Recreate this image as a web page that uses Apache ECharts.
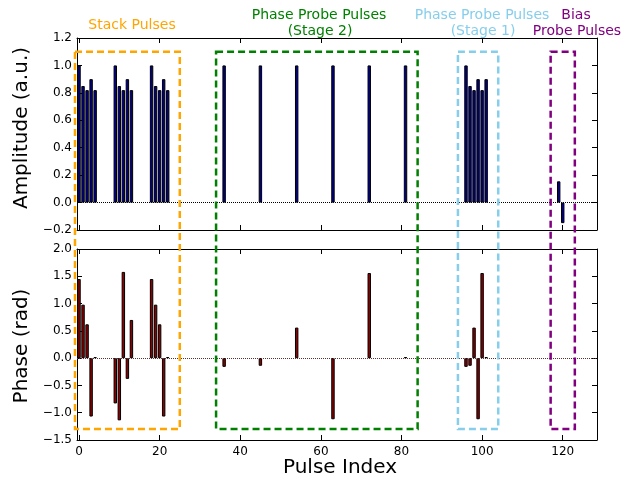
<!DOCTYPE html>
<html><head><meta charset="utf-8">
<script src="https://cdn.jsdelivr.net/npm/echarts@6/dist/echarts.min.js"></script>
<style>html,body{margin:0;padding:0;background:#fff}#c{width:629px;height:485px}</style>
</head><body><div id="c"></div>
<script>
// ---- data ----
const xTicks = [0, 20, 40, 60, 80, 100, 120];
const ampIndex = [0,1,2,3,4, 9,10,11,12,13, 18,19,20,21,22, 36,45,54,63,72,81, 96,97,98,99,100,101, 119,120];
const ampValues = [1.0,0.85,0.82,0.9,0.82, 1.0,0.85,0.82,0.9,0.82, 1.0,0.85,0.82,0.9,0.82, 1,1,1,1,1,1, 1.0,0.85,0.82,0.9,0.82,0.9, 0.155,-0.15];
const phaseIndex = [0,1,2,3,4, 9,10,11,12,13, 18,19,20,21,22, 36,45,54,63,72,81, 96,97,98,99,100,101];
const phaseValues = [1.45,0.98,0.62,-1.07,0.02, -0.83,-1.14,1.58,-0.38,0.70, 1.45,0.98,0.62,-1.07,0.02, -0.16,-0.14,0.56,-1.12,1.56,0.02, -0.16,-0.14,0.56,-1.12,1.56,0.02];
const boxNames = ['Stack Pulses', 'Phase Probe Pulses (Stage 2)', 'Phase Probe Pulses (Stage 1)', 'Bias Probe Pulses'];
const boxStart = [-1, 34, 94, 117];
const boxEnd = [25, 84, 104, 123];
const boxTopAmp = 1.1;
const boxBottomPhase = -1.3;

const FONT = 'DejaVu Sans';
const boxColors = ['#FFA500', '#008000', '#87CEEB', '#800080'];

function fmt(v) {
  if (Math.abs(v) < 1e-9) return '0.0';
  return v.toFixed(1).replace('-', '\u2212');
}

const chart = echarts.init(document.getElementById('c'), null, {renderer: 'canvas'});

function xAx(grid, pos, showLabel) {
  return {
    type: 'value', gridIndex: grid, position: pos, min: -0.5, max: 128.5,
    splitLine: {show: false},
    axisLine: {show: true, onZero: false, lineStyle: {color: '#000', width: 1}},
    axisTick: {show: true, inside: true, length: 5, lineStyle: {color: '#000'}, customValues: xTicks},
    axisLabel: {show: showLabel, customValues: xTicks, fontFamily: FONT, fontSize: 12, color: '#000', margin: 6}
  };
}
function yAx(grid, pos, min, max, interval, showLabel) {
  return {
    type: 'value', gridIndex: grid, position: pos, min: min, max: max, interval: interval,
    splitLine: {show: false},
    axisLine: {show: true, onZero: false, lineStyle: {color: '#000', width: 1}},
    axisTick: {show: true, inside: true, length: 5, lineStyle: {color: '#000'}},
    axisLabel: {show: showLabel, formatter: fmt, fontFamily: FONT, fontSize: 12, color: '#000', margin: 5}
  };
}
function zeroLine(color) {
  return {
    silent: true, symbol: ['none', 'none'], label: {show: false},
    lineStyle: {type: 'dotted', color: color, width: 1},
    data: [{yAxis: 0}], animation: false
  };
}

const option = {
  animation: false,
  backgroundColor: '#fff',
  grid: [
    {left: 77, right: 32, top: 38, height: 192},
    {left: 77, right: 32, top: 249, height: 191}
  ],
  xAxis: [xAx(0, 'bottom', false), xAx(0, 'top', false), xAx(1, 'bottom', true), xAx(1, 'top', false)],
  yAxis: [
    yAx(0, 'left', -0.2, 1.2, 0.2, true), yAx(0, 'right', -0.2, 1.2, 0.2, false),
    yAx(1, 'left', -1.5, 2.0, 0.5, true), yAx(1, 'right', -1.5, 2.0, 0.5, false)
  ],
  series: [
    {
      type: 'bar', xAxisIndex: 0, yAxisIndex: 0,
      data: ampIndex.map((x, i) => [x, ampValues[i]]),
      barWidth: '85%',
      itemStyle: {color: '#00008B', borderColor: '#000', borderWidth: 1},
      markLine: zeroLine('#000')
    },
    {
      type: 'bar', xAxisIndex: 2, yAxisIndex: 2,
      data: phaseIndex.map((x, i) => [x, phaseValues[i]]),
      barWidth: '85%',
      itemStyle: {color: '#8B0000', borderColor: '#000', borderWidth: 1},
      markLine: zeroLine('#5a3030')
    }
  ]
};
chart.setOption(option);

const elements = [];
for (let i = 0; i < boxNames.length; i++) {
  const p0 = chart.convertToPixel({seriesIndex: 0}, [boxStart[i], boxTopAmp]);
  const p1 = chart.convertToPixel({seriesIndex: 1}, [boxEnd[i], boxBottomPhase]);
  elements.push({
    type: 'rect', z: 100, silent: true,
    shape: {x: p0[0], y: p0[1], width: p1[0] - p0[0], height: p1[1] - p0[1]},
    style: {fill: 'none', stroke: boxColors[i], lineWidth: 2.5, lineDash: [7, 4]}
  });
}
function txt(t, x, y, color, size, rot) {
  return {
    type: 'text', z: 100, silent: true, x: x, y: y, rotation: rot || 0,
    style: {text: t, fill: color, font: size + 'px "' + FONT + '"', textAlign: 'center', textVerticalAlign: 'middle'}
  };
}
elements.push(txt('Stack Pulses', 132, 25, boxColors[0], 14));
elements.push(txt('Phase Probe Pulses', 319, 15, boxColors[1], 14));
elements.push(txt('(Stage 2)', 320, 31, boxColors[1], 14));
elements.push(txt('Phase Probe Pulses', 482, 15, boxColors[2], 14));
elements.push(txt('(Stage 1)', 483, 31, boxColors[2], 14));
elements.push(txt('Bias', 576, 15, boxColors[3], 14));
elements.push(txt('Probe Pulses', 577, 31, boxColors[3], 14));
elements.push(txt('Amplitude (a.u.)', 22, 128, '#000', 20, Math.PI / 2));
elements.push(txt('Phase (rad)', 22, 346, '#000', 20, Math.PI / 2));
elements.push(txt('Pulse Index', 340, 468, '#000', 20));
chart.setOption({graphic: {elements: elements}});
</script></body></html>
